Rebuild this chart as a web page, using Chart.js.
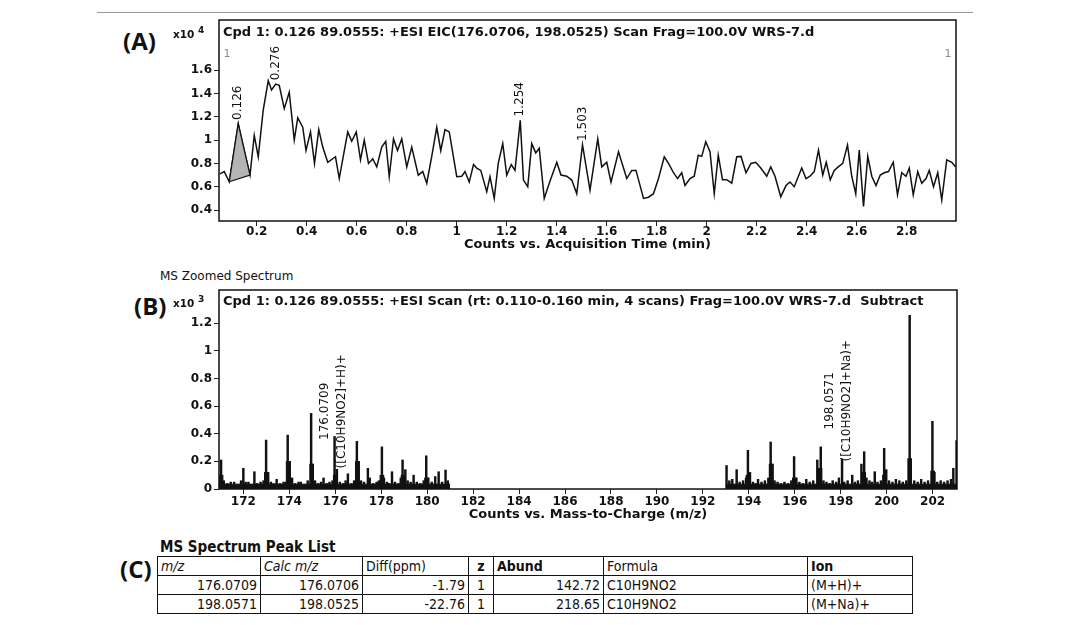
<!DOCTYPE html>
<html>
<head>
<meta charset="utf-8">
<script src="https://cdn.jsdelivr.net/npm/chart.js@4.4.1/dist/chart.umd.min.js"></script>
<style>
  body { margin: 0; background: #fff; width: 1082px; height: 625px; position: relative; overflow: hidden; font-family: "DejaVu Sans", sans-serif; color: #111; }
  .frame-top { position: absolute; left: 97px; top: 12px; width: 876px; border-top: 1px solid #9a9a9a; }
  .panel-tag { position: absolute; font-family: "Open Sans", sans-serif; font-weight: 700; font-size: 24px; line-height: 24px; color: #111; }
  .plot { position: absolute; left: 140px; width: 830px; height: 250px; }
  #zoomCaption { position: absolute; left: 160px; top: 269px; font-size: 12px; line-height: 14px; }
  #peakTitle { position: absolute; left: 160px; top: 538px; font-family: "DejaVu Sans Condensed", "DejaVu Sans", sans-serif; font-weight: 700; font-size: 15px; line-height: 18px; }
  #peakList { position: absolute; left: 157px; top: 556px; border-collapse: collapse; table-layout: fixed; width: 755px;
              border: 1.5px solid #111;
              font-family: "DejaVu Sans Condensed", "DejaVu Sans", sans-serif; font-size: 14px; }
  #peakList td, #peakList th { border: 1px solid #111; padding: 0 3px; height: 18px; line-height: 17px; white-space: nowrap; overflow: hidden; }
  #peakList th { font-weight: normal; text-align: left; }
  #peakList th.b { font-weight: bold; }
  #peakList td.num { text-align: right; }
  #peakList .mid { text-align: center; }
</style>
</head>
<body>
<div class="frame-top"></div>
<div class="panel-tag" style="left:123px; top:29px;">(A)</div>
<div class="panel-tag" style="left:134px; top:294px;">(B)</div>
<div class="panel-tag" style="left:120px; top:557px;">(C)</div>
<div id="zoomCaption">MS Zoomed Spectrum</div>

<div class="plot" style="top:10px;"><canvas id="eicChart" width="830" height="250"></canvas></div>
<div class="plot" style="top:280px;"><canvas id="msChart" width="830" height="250"></canvas></div>

<div id="peakTitle">MS Spectrum Peak List</div>
<table id="peakList">
  <colgroup>
    <col style="width:103px"><col style="width:102px"><col style="width:106px"><col style="width:25px">
    <col style="width:110px"><col style="width:204px"><col style="width:105px">
  </colgroup>
  <thead>
    <tr><th><i>m/z</i></th><th><i>Calc m/z</i></th><th>Diff(ppm)</th><th class="b mid">z</th><th class="b">Abund</th><th>Formula</th><th class="b">Ion</th></tr>
  </thead>
  <tbody id="peakRows"></tbody>
</table>

<script>
// ---- extracted ion chromatogram (counts x10^4 vs minutes) ----
const eicTime = [
  0.053,0.070,0.090,0.126,0.144,0.173,0.190,0.206,0.226,0.246,
  0.259,0.276,0.290,0.310,0.330,0.350,0.364,0.384,0.397,0.415,
  0.431,0.448,0.464,0.484,0.515,0.530,0.564,0.580,0.598,0.615,
  0.630,0.647,0.664,0.680,0.700,0.716,0.730,0.747,0.763,0.780,
  0.800,0.820,0.846,0.864,0.880,0.900,0.920,0.936,0.953,0.970,
  1.000,1.020,1.033,1.050,1.067,1.080,1.096,1.120,1.133,1.150,
  1.166,1.184,1.200,1.218,1.233,1.254,1.267,1.284,1.300,1.316,
  1.330,1.350,1.370,1.400,1.417,1.440,1.460,1.480,1.503,1.533,
  1.564,1.580,1.600,1.617,1.647,1.667,1.680,1.700,1.717,1.747,
  1.767,1.787,1.807,1.830,1.847,1.867,1.883,1.900,1.913,1.933,
  1.950,1.966,1.980,1.996,2.013,2.030,2.046,2.063,2.080,2.100,
  2.120,2.137,2.157,2.177,2.196,2.216,2.240,2.256,2.273,2.296,
  2.317,2.333,2.350,2.380,2.397,2.413,2.430,2.447,2.464,2.478,
  2.494,2.510,2.526,2.544,2.563,2.580,2.596,2.610,2.627,2.644,
  2.660,2.677,2.694,2.710,2.727,2.746,2.763,2.780,2.797,2.810,
  2.826,2.844,2.860,2.877,2.890,2.907,2.924,2.940,2.960,2.980,
  2.995
];
const eicCounts = [
  0.71,0.73,0.643,1.14,0.97,0.70,1.04,0.857,1.26,1.51,
  1.43,1.48,1.47,1.27,1.41,1.00,1.19,1.11,0.91,1.07,
  0.80,1.09,0.94,0.81,0.857,0.67,1.07,0.99,1.07,0.83,
  1.00,0.80,0.84,0.77,0.94,0.99,0.686,1.01,0.91,1.01,
  0.77,0.94,0.70,0.73,0.63,0.86,1.11,0.91,1.09,1.07,
  0.686,0.69,0.73,0.64,0.79,0.76,0.74,0.557,0.686,0.50,
  0.80,0.97,0.70,0.79,0.74,1.17,0.657,0.60,0.97,0.89,
  0.93,0.50,0.63,0.81,0.70,0.69,0.657,0.54,0.96,0.57,
  1.01,0.77,0.81,0.64,0.90,0.76,0.67,0.74,0.74,0.50,
  0.51,0.54,0.67,0.857,0.80,0.72,0.67,0.72,0.61,0.67,
  0.69,0.87,0.86,0.986,0.90,0.54,0.87,0.66,0.66,0.63,
  0.857,0.86,0.72,0.80,0.81,0.76,0.69,0.77,0.69,0.514,
  0.61,0.64,0.60,0.76,0.67,0.69,0.73,0.914,0.70,0.81,
  0.66,0.74,0.77,0.80,0.957,0.69,0.54,0.914,0.43,0.86,
  0.69,0.61,0.70,0.72,0.73,0.81,0.53,0.72,0.69,0.76,
  0.53,0.73,0.63,0.67,0.74,0.60,0.72,0.486,0.83,0.81,
  0.77
];
// integrated area of the first peak (closed outline)
const areaTime   = [0.090, 0.126, 0.144, 0.173, 0.090];
const areaCounts = [0.643, 1.14, 0.97, 0.70, 0.643];
// retention times marked on the trace
const rtMarks = [0.126, 0.276, 1.254, 1.503];
const eicXTicks = [0.2,0.4,0.6,0.8,1,1.2,1.4,1.6,1.8,2,2.2,2.4,2.6,2.8];
const eicYTicks = [0.4,0.6,0.8,1,1.2,1.4,1.6];

// ---- mass spectrum (counts x10^3 vs m/z) ----
const specMz = [
  171.03,171.15,171.30,171.45,171.60,171.75,171.90,172.00,172.10,172.22,
  172.35,172.48,172.60,172.75,172.88,172.99,173.08,173.20,173.32,173.45,
  173.60,173.75,173.85,173.93,174.02,174.12,174.25,174.40,174.50,174.65,
  174.80,174.95,175.02,175.12,175.25,175.38,175.49,175.62,175.75,175.88,
  175.97,176.20,176.35,176.45,176.55,176.70,176.82,176.94,177.02,177.12,
  177.25,177.42,177.50,177.65,177.80,177.90,178.03,178.12,178.25,178.35,
  178.47,178.60,178.75,178.85,178.93,179.05,179.15,179.28,179.41,179.55,
  179.70,179.85,179.96,180.05,180.20,180.35,180.50,180.65,180.80,180.90,
  193.03,193.15,193.28,193.47,193.60,193.75,193.88,193.96,194.05,194.18,
  194.30,194.40,194.55,194.70,194.85,194.95,195.03,195.12,195.25,195.40,
  195.55,195.70,195.85,195.97,196.07,196.20,196.35,196.50,196.65,196.80,
  196.98,197.13,197.25,197.38,197.52,197.65,197.80,197.92,198.15,198.30,
  198.50,198.62,198.75,198.90,199.02,199.12,199.25,199.36,199.48,199.60,
  199.75,199.89,199.98,200.10,200.25,200.40,200.55,200.70,200.85,201.00,
  201.20,201.35,201.50,201.65,201.80,201.99,202.08,202.20,202.35,202.50,
  202.65,202.80,202.90,203.04
];
const specAbund = [
  0.21,0.06,0.04,0.05,0.05,0.03,0.06,0.15,0.05,0.05,
  0.03,0.125,0.04,0.05,0.06,0.354,0.12,0.05,0.04,0.07,
  0.04,0.05,0.05,0.39,0.20,0.08,0.04,0.05,0.05,0.03,
  0.06,0.547,0.18,0.06,0.04,0.05,0.08,0.04,0.05,0.06,
  0.38,0.05,0.04,0.06,0.11,0.04,0.06,0.345,0.20,0.06,
  0.05,0.15,0.08,0.04,0.05,0.06,0.305,0.08,0.05,0.04,
  0.125,0.05,0.04,0.08,0.21,0.14,0.06,0.05,0.10,0.05,
  0.04,0.06,0.24,0.08,0.05,0.09,0.125,0.05,0.137,0.06,
  0.17,0.06,0.07,0.14,0.05,0.06,0.08,0.28,0.12,0.05,
  0.04,0.07,0.05,0.06,0.08,0.34,0.18,0.06,0.05,0.04,
  0.05,0.04,0.06,0.235,0.08,0.05,0.04,0.07,0.05,0.06,
  0.21,0.305,0.06,0.05,0.04,0.06,0.05,0.08,0.05,0.06,
  0.10,0.05,0.06,0.18,0.27,0.08,0.06,0.05,0.125,0.05,
  0.06,0.294,0.14,0.06,0.05,0.07,0.06,0.05,0.06,1.257,
  0.06,0.05,0.07,0.05,0.06,0.49,0.12,0.05,0.06,0.05,
  0.06,0.07,0.15,0.35
];
// broad bases under the stronger isotope clusters
const footMz    = [171.03,173.00,173.95,174.97,176.00,176.96,178.03,178.95,179.97,193.96,194.97,195.98,197.10,199.00,199.90,201.00,202.00];
const footAbund = [0.10,0.12,0.20,0.18,0.10,0.20,0.10,0.10,0.08,0.10,0.18,0.08,0.15,0.12,0.10,0.22,0.13];
// noise floor of the two acquired windows
const windowStart = [170.94, 193.00];
const windowEnd   = [181.00, 203.06];
const noiseFloor  = 0.035;
const msXTicks = [172,174,176,178,180,182,184,186,188,190,192,194,196,198,200,202];
const msYTicks = [0,0.2,0.4,0.6,0.8,1,1.2];

// ---- peak list ----
const peakMz      = [176.0709, 198.0571];
const peakCalcMz  = [176.0706, 198.0525];
const peakDiffPpm = [-1.79, -22.76];
const peakZ       = [1, 1];
const peakAbund   = [142.72, 218.65];
const peakFormula = ['C10H9NO2', 'C10H9NO2'];
const peakIon     = ['(M+H)+', '(M+Na)+'];

const eicTitle = 'Cpd 1: 0.126 89.0555: +ESI EIC(176.0706, 198.0525) Scan Frag=100.0V WRS-7.d';
const msTitle  = 'Cpd 1: 0.126 89.0555: +ESI Scan (rt: 0.110-0.160 min, 4 scans) Frag=100.0V WRS-7.d  Subtract';

Chart.defaults.font.family = '"DejaVu Sans", sans-serif';
Chart.defaults.color = '#111';

const fmt = v => String(Math.round(v * 10) / 10);
const tickFont = { family: '"DejaVu Sans"', weight: 'bold', size: 12 };

function axisX(min, max, ticks, height, pad) {
  return {
    type: 'linear', min, max, offset: false,
    afterFit: s => { s.height = height; s.paddingLeft = 0; s.paddingRight = 0; },
    afterBuildTicks: s => { s.ticks = ticks.map(v => ({ value: v })); },
    ticks: { font: tickFont, color: '#111', padding: pad, maxRotation: 0, autoSkip: false, callback: v => fmt(v) },
    grid: { display: true, drawOnChartArea: false, drawTicks: true, tickLength: 5, color: '#222', offset: false },
    border: { display: false }
  };
}
function axisY(min, max, ticks) {
  return {
    type: 'linear', min, max,
    afterFit: s => { s.width = 79; s.paddingTop = 0; s.paddingBottom = 0; },
    afterBuildTicks: s => { s.ticks = ticks.map(v => ({ value: v })); },
    ticks: { font: tickFont, color: '#111', padding: 2, autoSkip: false, callback: v => fmt(v) },
    grid: { display: true, drawOnChartArea: false, drawTicks: true, tickLength: 5, color: '#222' },
    border: { display: false }
  };
}

// frame, header line, multiplier and axis caption shared by both plots
function frameText(chart, title, exp, caption, titleDy, capDy) {
  const { ctx, chartArea: a } = chart;
  ctx.save();
  ctx.strokeStyle = '#111';
  ctx.lineWidth = 1.5;
  ctx.strokeRect(a.left, a.top, a.right - a.left, a.bottom - a.top);
  ctx.fillStyle = '#111';
  ctx.textBaseline = 'middle';
  ctx.textAlign = 'left';
  ctx.font = 'bold 13px "DejaVu Sans"';
  ctx.fillText(title, a.left + 4, a.top + titleDy);
  ctx.font = 'bold 10.5px "DejaVu Sans"';
  ctx.fillText('x10', a.left - 46, a.top + titleDy + 2);
  ctx.font = 'bold 9px "DejaVu Sans"';
  ctx.fillText(exp, a.left - 21, a.top + titleDy - 2);
  ctx.textAlign = 'center';
  ctx.font = 'bold 13px "DejaVu Sans"';
  ctx.fillText(caption, (a.left + a.right) / 2, a.bottom + capDy);
  ctx.restore();
}

const eicDecor = {
  id: 'eicDecor',
  afterDraw(chart) {
    frameText(chart, eicTitle, '4', 'Counts vs. Acquisition Time (min)', 13, 24);
    const { ctx, chartArea: a, scales: { x, y } } = chart;
    ctx.save();
    // range cursors
    ctx.fillStyle = '#8a8a8a';
    ctx.font = '11px "DejaVu Sans"';
    ctx.textAlign = 'center';
    ctx.textBaseline = 'middle';
    ctx.fillText('1', a.left + 8, a.top + 34);
    ctx.fillText('1', a.right - 8, a.top + 34);
    // retention time labels, rotated above each apex
    ctx.fillStyle = '#111';
    ctx.font = '12px "DejaVu Sans"';
    rtMarks.forEach(t => {
      const i = eicTime.indexOf(t);
      const px = x.getPixelForValue(t);
      const py = y.getPixelForValue(eicCounts[i]);
      ctx.save();
      ctx.translate(px, py - 21);
      ctx.rotate(-Math.PI / 2);
      ctx.fillText(t.toFixed(3), 0, 0);
      ctx.restore();
    });
    ctx.restore();
  }
};

const msDecor = {
  id: 'msDecor',
  afterDraw(chart) {
    frameText(chart, msTitle, '3', 'Counts vs. Mass-to-Charge (m/z)', 12, 26);
    const { ctx, scales: { x, y } } = chart;
    ctx.save();
    ctx.fillStyle = '#111';
    ctx.font = '12px "DejaVu Sans"';
    ctx.textAlign = 'center';
    ctx.textBaseline = 'middle';
    peakMz.forEach((m, i) => {
      const px = x.getPixelForValue(m);
      const cy = y.getPixelForValue(peakAbund[i] / 1000) - 58;
      const lines = [m.toFixed(4), '([' + peakFormula[i] + ']' + peakIon[i].slice(2, -2) + ')+'];
      [-12, 5].forEach((dx, k) => {
        ctx.save();
        ctx.translate(px + dx, cy);
        ctx.rotate(-Math.PI / 2);
        ctx.fillText(lines[k], 0, 0);
        ctx.restore();
      });
    });
    ctx.restore();
  }
};

new Chart(document.getElementById('eicChart'), {
  type: 'line',
  data: {
    datasets: [
      {
        data: areaTime.map((t, i) => ({ x: t, y: areaCounts[i] })),
        borderColor: '#111', borderWidth: 1.2,
        backgroundColor: '#b4b4b4', fill: 'shape'
      },
      {
        data: eicTime.map((t, i) => ({ x: t, y: eicCounts[i] })),
        borderColor: '#111', borderWidth: 1.5, fill: false
      }
    ]
  },
  options: {
    responsive: false, animation: false,
    layout: { padding: { top: 10, right: 14, left: 0, bottom: 0 } },
    elements: { point: { radius: 0 }, line: { tension: 0 } },
    plugins: { legend: { display: false }, tooltip: { enabled: false } },
    scales: {
      x: axisX(0.049, 2.997, eicXTicks, 39, -1),
      y: axisY(0.306, 2.03, eicYTicks)
    }
  },
  plugins: [eicDecor]
});

const sticks = specMz.map((m, i) => ({ x: m, y: specAbund[i] }))
  .concat(peakMz.map((m, i) => ({ x: m, y: peakAbund[i] / 1000 })))
  .sort((p, q) => p.x - q.x);

const floorSets = windowStart.map((s, i) => ({
  type: 'line',
  data: [{ x: s, y: noiseFloor }, { x: windowEnd[i], y: noiseFloor }],
  borderColor: '#111', borderWidth: 1, backgroundColor: '#111',
  fill: 'origin', pointRadius: 0
}));

new Chart(document.getElementById('msChart'), {
  type: 'bar',
  data: {
    datasets: [
      { data: sticks, backgroundColor: '#111', barThickness: 1.8, grouped: false },
      { data: footMz.map((m, i) => ({ x: m, y: footAbund[i] })), backgroundColor: '#111', barThickness: 4, grouped: false }
    ].concat(floorSets)
  },
  options: {
    responsive: false, animation: false,
    layout: { padding: { top: 10, right: 13, left: 0, bottom: 0 } },
    plugins: { legend: { display: false }, tooltip: { enabled: false } },
    scales: {
      x: axisX(170.94, 203.06, msXTicks, 41, 1),
      y: axisY(0, 1.44, msYTicks)
    }
  },
  plugins: [msDecor]
});

// peak list rows
const rows = document.getElementById('peakRows');
peakMz.forEach((m, i) => {
  const tr = document.createElement('tr');
  tr.innerHTML =
    '<td class="num">' + m.toFixed(4) + '</td>' +
    '<td class="num">' + peakCalcMz[i].toFixed(4) + '</td>' +
    '<td class="num">' + peakDiffPpm[i].toFixed(2) + '</td>' +
    '<td class="mid">' + peakZ[i] + '</td>' +
    '<td class="num">' + peakAbund[i].toFixed(2) + '</td>' +
    '<td>' + peakFormula[i] + '</td>' +
    '<td>' + peakIon[i] + '</td>';
  rows.appendChild(tr);
});
</script>
</body>
</html>
